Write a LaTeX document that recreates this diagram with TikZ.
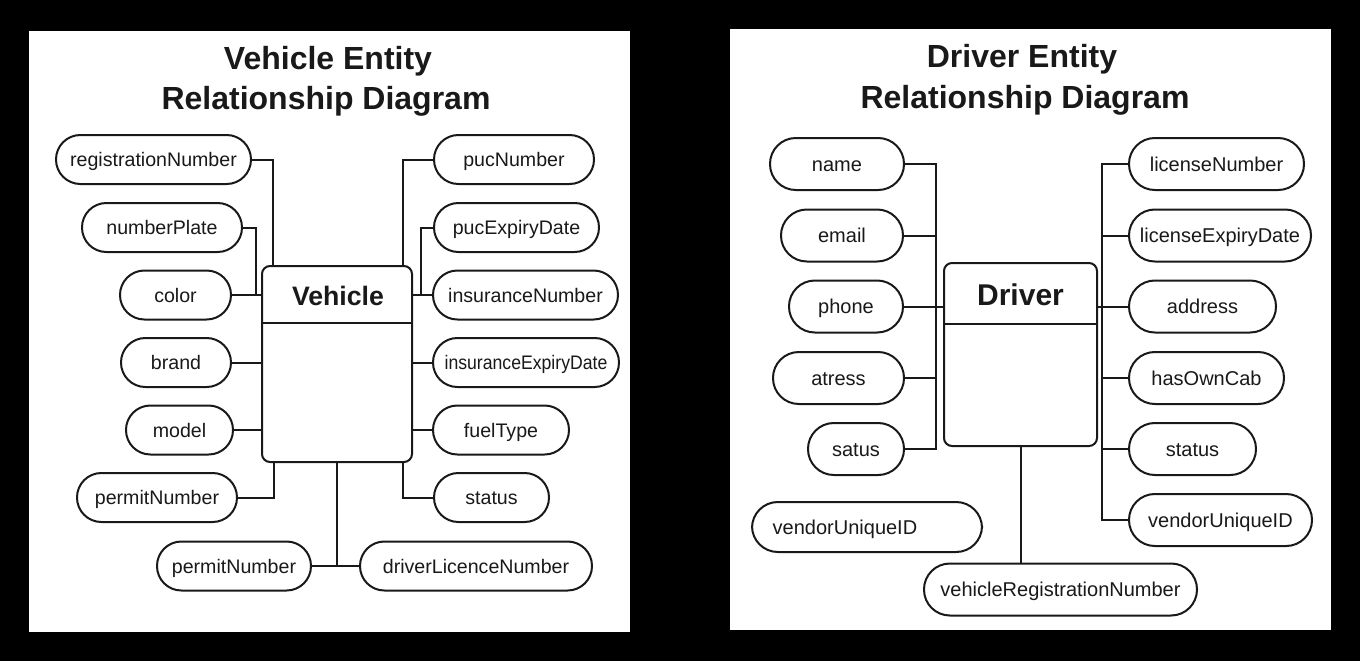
\documentclass[tikz,border=0pt]{standalone}
\usepackage{fontspec}
\setmainfont{Liberation Sans}
\begin{document}
\begin{tikzpicture}[x=0.75pt,y=-0.75pt,
  ln/.style={line width=1.5pt, draw=black!90},
  mw/.style={minimum width={#1*0.75pt}},
  attL/.style={draw=black!90, line width=1.5pt, rectangle, rounded corners=18.3pt,
    minimum height=36.75pt, inner sep=0pt, text height=10.5pt, text depth=0pt,
    font=\fontsize{14.7}{17}\selectfont, text=black!90},
  attR/.style={draw=black!90, line width=1.5pt, rectangle, rounded corners=19.4pt,
    minimum height=39pt, inner sep=0pt, text height=10.75pt, text depth=0pt,
    font=\fontsize{15}{18}\selectfont, text=black!90},
  entity/.style={draw=black!90, line width=1.5pt, rectangle, rounded corners=6pt, inner sep=0pt},
  ttl/.style={anchor=base, font=\bfseries\fontsize{24}{28}\selectfont, text=black!90, inner sep=0pt},
  ename/.style={anchor=base, font=\bfseries, text=black!90, inner sep=0pt}
]
\useasboundingbox (0,0) rectangle (1360,661);
\fill[black] (0,0) rectangle (1360,661);
\fill[white] (29,31) rectangle (630,632);
\fill[white] (730,29) rectangle (1331,630);

% ---------------- Vehicle panel ----------------
\node[ttl] (vt1) at (328,69) {Vehicle Entity};
\node[ttl] (vt2) at (326,109) {Relationship Diagram};

\node[entity, minimum width=112.5pt, minimum height=147pt] (vbox) at (337,364) {};
\draw[ln] (vbox.west |- 0,323) -- (vbox.east |- 0,323);
\node[ename, font=\bfseries\fontsize{20}{24}\selectfont] (vname) at (338,305) {Vehicle};

\node[attL, mw=195] (reg) at (153.5,159.5) {registrationNumber};
\node[attL, mw=160] (np) at (162,227.5) {numberPlate};
\node[attL, mw=111] (col) at (175.5,295) {color};
\node[attL, mw=110] (brand) at (176,362.5) {brand};
\node[attL, mw=107] (model) at (179.5,430) {model};
\node[attL, mw=160] (pn1) at (157,497.5) {permitNumber};
\node[attL, mw=154] (pn2) at (234,566) {permitNumber};
\node[attL, mw=232] (dl) at (476,566) {driverLicenceNumber};
\node[attL, mw=160] (puc) at (514,159.5) {pucNumber};
\node[attL, mw=165] (pucx) at (516.5,227.5) {pucExpiryDate};
\node[attL, mw=185] (ins) at (525.5,295) {insuranceNumber};
\node[attL, mw=186] (insx) at (526,362.5) {\scalebox{0.9}[1]{insuranceExpiryDate}};
\node[attL, mw=136] (fuel) at (501,430) {fuelType};
\node[attL, mw=115] (vst) at (491.5,497.5) {status};

\draw[ln] (reg.east) -| (vbox.north -| 273,0);
\draw[ln] (np.east) -| (col.east -| 256,0);
\draw[ln] (col.east) -- (col.east -| vbox.west);
\draw[ln] (brand.east) -- (brand.east -| vbox.west);
\draw[ln] (model.east) -- (model.east -| vbox.west);
\draw[ln] (pn1.east) -| (vbox.south -| 274,0);
\draw[ln] (vbox.south) -- (vbox.south |- pn2.east);
\draw[ln] (pn2.east) -- (dl.west);
\draw[ln] (puc.west) -| (vbox.north -| 403,0);
\draw[ln] (pucx.west) -| (ins.west -| 421,0);
\draw[ln] (ins.west) -- (ins.west -| vbox.east);
\draw[ln] (insx.west) -- (insx.west -| vbox.east);
\draw[ln] (fuel.west) -- (fuel.west -| vbox.east);
\draw[ln] (vst.west) -| (vbox.south -| 403,0);

% ---------------- Driver panel ----------------
\node[ttl] (dt1) at (1022,67) {Driver Entity};
\node[ttl] (dt2) at (1025,108) {Relationship Diagram};

\node[entity, minimum width=114.75pt, minimum height=137.25pt] (dbox) at (1020.5,354.5) {};
\draw[ln] (dbox.west |- 0,324) -- (dbox.east |- 0,324);
\node[ename, font=\bfseries\fontsize{22.5}{26}\selectfont] (dname) at (1020.5,305) {Driver};

\node[attR, mw=134] (name) at (837,164) {name};
\node[attR, mw=122] (email) at (842,235.5) {email};
\node[attR, mw=114] (phone) at (846,306.5) {phone};
\node[attR, mw=131] (atress) at (838.5,378) {atress};
\node[attR, mw=96] (satus) at (856,449) {satus};
\node[attR, mw=230, minimum height=37.5pt] (vu2) at (867,527) {\hspace*{-33pt}vendorUniqueID};
\node[attR, mw=273] (vrn) at (1060.5,589.5) {vehicleRegistrationNumber};
\node[attR, mw=175] (lic) at (1216.5,164) {licenseNumber};
\node[attR, mw=182] (licx) at (1220,235.5) {licenseExpiryDate};
\node[attR, mw=147] (addr) at (1202.5,306.5) {address};
\node[attR, mw=155] (hoc) at (1206.5,378) {hasOwnCab};
\node[attR, mw=127] (dst) at (1192.5,449) {status};
\node[attR, mw=183] (vu) at (1220.5,520) {vendorUniqueID};

\draw[ln] (name.east) -| (satus.east -| 936,0) -- (satus.east);
\draw[ln] (email.east) -- (email.east -| 936,0);
\draw[ln] (phone.east) -- (phone.east -| dbox.west);
\draw[ln] (atress.east) -- (atress.east -| 936,0);
\draw[ln] (lic.west) -| (vu.west -| 1102,0) -- (vu.west);
\draw[ln] (licx.west) -- (licx.west -| 1102,0);
\draw[ln] (addr.west) -- (addr.west -| dbox.east);
\draw[ln] (hoc.west) -- (hoc.west -| 1102,0);
\draw[ln] (dst.west) -- (dst.west -| 1102,0);
\draw[ln] (dbox.south) -- (dbox.south |- vrn.north);
\end{tikzpicture}
\end{document}
